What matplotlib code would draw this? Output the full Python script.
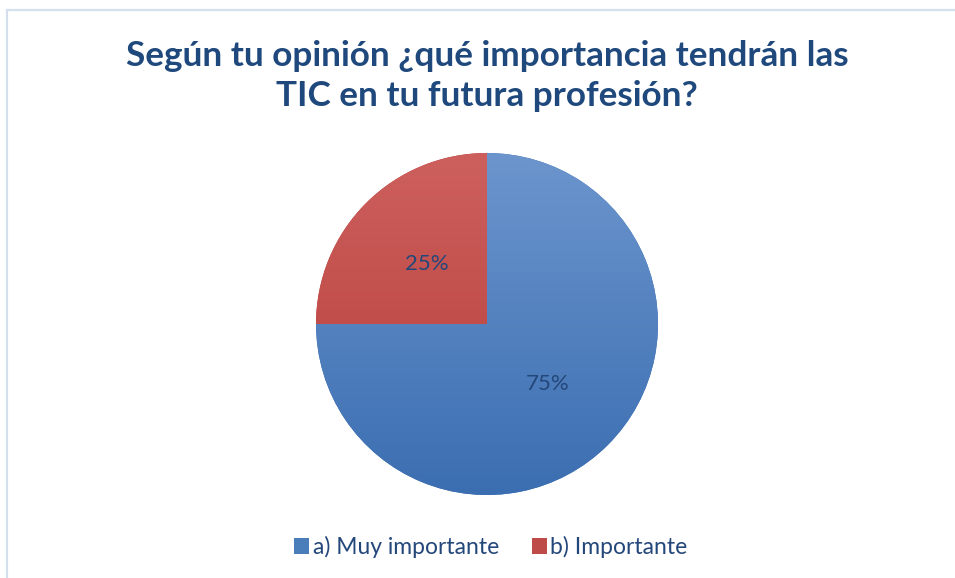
import matplotlib
matplotlib.use("Agg")
import matplotlib.pyplot as plt
import numpy as np
from matplotlib.patches import Patch, Rectangle
from matplotlib.colors import LinearSegmentedColormap

TITLE = "Según tu opinión ¿qué importancia tendrán las\nTIC en tu futura profesión?"
categories = ["a) Muy importante", "b) Importante"]
shares = [75, 25]

top_colors = ["#6C95CD", "#CD605D"]
bottom_colors = ["#3B6EB1", "#B53B38"]
legend_colors = ["#4A7EBB", "#BE4B48"]
text_color = "#24477A"

W, H = 955, 578
fig = plt.figure(figsize=(W / 100, H / 100), dpi=100)
fig.patch.set_facecolor("white")

# light frame (only top and left edges are visible in the crop)
fig.patches.append(Rectangle((6.5 / W, -0.1), 1.2, (H - 9.5) / H + 0.1,
                             transform=fig.transFigure, fill=False,
                             edgecolor="#D5E0EE", linewidth=1.6))

cx, cy, r = 487, 324, 171
ax = fig.add_axes([(cx - r) / W, (H - cy - r) / H, 2 * r / W, 2 * r / H])
wedges, texts, autotexts = ax.pie(
    shares, startangle=90, counterclock=False, radius=1,
    autopct="%1.0f%%", pctdistance=0.5,
    textprops=dict(color=text_color, fontsize=16, family="Lato"),
    wedgeprops=dict(linewidth=0),
)
ax.set_aspect("equal")
ax.axis("off")

# vertical gradient fill inside each wedge
grad = np.linspace(0, 1, 256).reshape(-1, 1)
for w, c_top, c_bot in zip(wedges, top_colors, bottom_colors):
    cmap = LinearSegmentedColormap.from_list("g", [c_bot, c_top])
    w.set_facecolor(c_bot)
    im = ax.imshow(grad, extent=(-1, 1, -1, 1), origin="lower", cmap=cmap,
                   aspect="auto", zorder=w.get_zorder() + 0.1)
    im.set_clip_path(w)
for t in autotexts:
    t.set_zorder(5)
ax.set_xlim(-1, 1)
ax.set_ylim(-1, 1)

fig.text(487 / W, 1 - 76 / H, TITLE, ha="center", va="center",
         fontsize=25.3, fontweight="bold", color="#1F497D", family="Lato",
         linespacing=1.27)

handles = [Patch(facecolor=c, edgecolor="none") for c in legend_colors]
fig.legend(handles, categories, loc="center", bbox_to_anchor=(491 / W, 1 - 547 / H),
           ncol=2, frameon=False, handlelength=0.65, handleheight=0.65,
           handletextpad=0.15, columnspacing=1.45, labelcolor=text_color,
           prop=dict(family="Lato", size=16.5))

fig.savefig("out.png", dpi=100)
